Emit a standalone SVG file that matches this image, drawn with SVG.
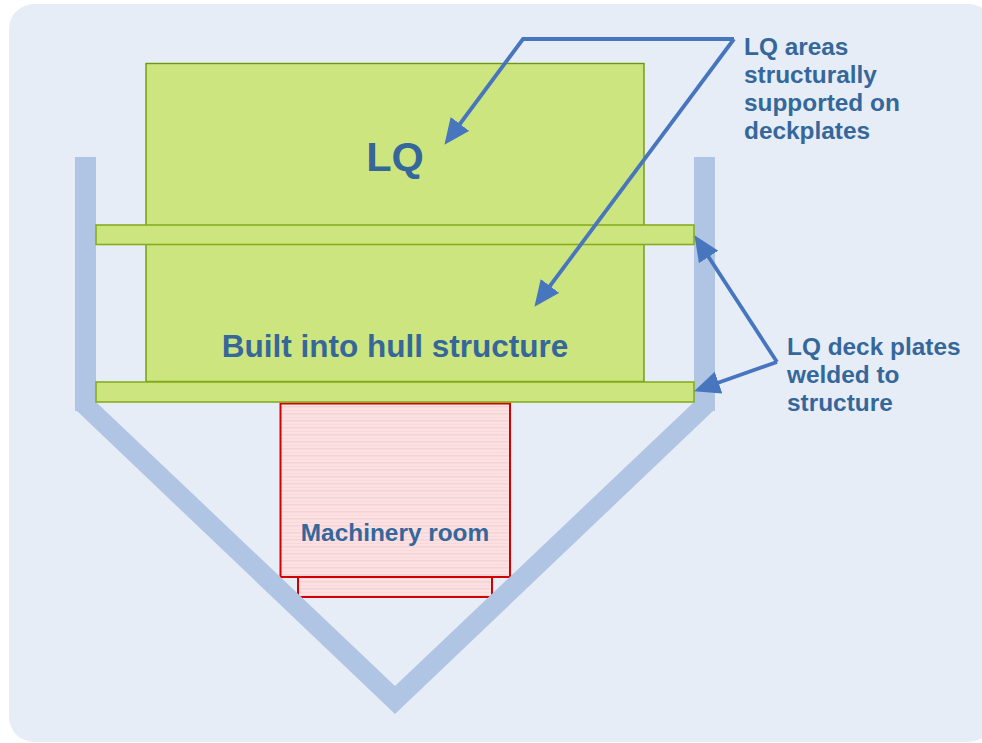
<svg xmlns="http://www.w3.org/2000/svg" width="982" height="743" viewBox="0 0 982 743">
  <style>
    .green { fill: #cde57e; stroke: #6a9a10; stroke-width: 1.4; }
    .plate { fill: #cde57e; stroke: #86ad20; stroke-width: 1.6; }
    .room { fill: url(#stripes); stroke: #d40000; stroke-width: 2; }
    .lead { fill: none; stroke: #4776bf; stroke-width: 3.8; stroke-linejoin: miter; }
    text { font-family: "Liberation Sans", Arial, sans-serif; font-weight: bold; fill: #35679b; }
    .note { font-size: 24.400px; }
  </style>
  <defs>
    <pattern id="stripes" patternUnits="userSpaceOnUse" width="10" height="7">
      <rect width="10" height="7" fill="#fde0e1"/>
      <rect y="0" width="10" height="1.500" fill="#f5d4d8"/>
      <rect y="4" width="10" height="1" fill="#f7d9dc"/>
    </pattern>
    <marker id="arrow" markerUnits="userSpaceOnUse" markerWidth="27" markerHeight="24" refX="20" refY="12" orient="auto">
      <path d="M0 0.500 L26 12 L0 23.500 Z" fill="#4776bf"/>
    </marker>
  </defs>
  <rect id="panel" x="9" y="4" width="985" height="738" rx="25" ry="25" fill="#e7edf7"/>
  <g id="machinery-room">
    <rect class="room" x="298" y="577" width="194" height="20"/>
    <rect class="room" x="280.500" y="403.500" width="229.500" height="173.500"/>
    <text x="395" y="541" font-size="24.400" text-anchor="middle">Machinery room</text>
  </g>
  <g id="hull">
    <path d="M75 157 H96 V402 L395 686 L694 402 V157 H715 V411 H713 L395 714 L77 411 H75 Z" fill="#b0c5e3"/>
  </g>
  <g id="lq-block">
    <rect class="green" x="146" y="63.500" width="498" height="318"/>
    <text x="395" y="171" font-size="41.500" text-anchor="middle">LQ</text>
    <text x="395" y="357" font-size="31.500" text-anchor="middle">Built into hull structure</text>
  </g>
  <g id="deck-plate-upper">
    <rect class="plate" x="96" y="225" width="598" height="19.500"/>
  </g>
  <g id="deck-plate-lower">
    <rect class="plate" x="96" y="382" width="598" height="20"/>
  </g>
  <g id="connectors">
    <path class="lead" d="M734 39 H523 L448 140" marker-end="url(#arrow)"/>
    <path class="lead" d="M734 39 L538 302" marker-end="url(#arrow)"/>
    <path class="lead" d="M777 362 L697.700 240.200" marker-end="url(#arrow)"/>
    <path class="lead" d="M777 362 L699.700 389.300" marker-end="url(#arrow)"/>
  </g>
  <g id="label-lq-areas">
    <text class="note" x="744" y="54.500">LQ areas</text>
    <text class="note" x="744" y="82.500">structurally</text>
    <text class="note" x="744" y="110.500">supported on</text>
    <text class="note" x="744" y="138.500">deckplates</text>
  </g>
  <g id="label-deck-plates">
    <text class="note" x="787" y="354.500">LQ deck plates</text>
    <text class="note" x="787" y="382.500">welded to</text>
    <text class="note" x="787" y="410.500">structure</text>
  </g>
</svg>
